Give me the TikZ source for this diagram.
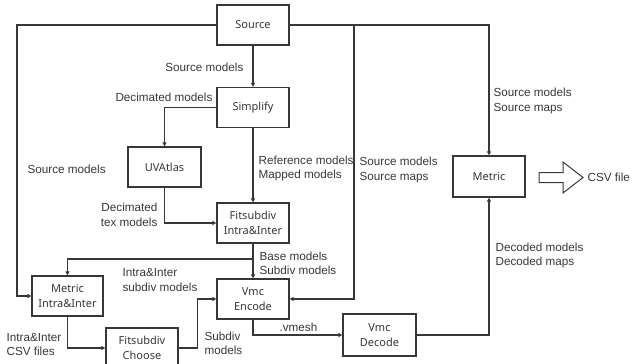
\documentclass[tikz,border=0pt]{standalone}
\usepackage{fontspec}
\setmainfont{Liberation Sans}
\newfontfamily\boxfont{Noto Sans}
\usetikzlibrary{arrows.meta}
\definecolor{ink}{RGB}{55,55,55}
\begin{document}
\begin{tikzpicture}[x=1pt,y=-1pt,
  line width=1.2pt, color=ink,
  proc/.style={draw=ink,fill=white,line width=1.3pt,minimum width=72pt,minimum height=40pt,
    inner sep=0pt,align=center,text=ink,font=\boxfont\fontsize{11}{15}\selectfont},
  lbl/.style={inner sep=0pt,text=ink,font=\fontsize{11.7}{14.5}\selectfont},
  flow/.style={draw=ink,-{Triangle[length=4pt,width=4pt]}}]
\useasboundingbox (0,0) rectangle (632,364);

% process boxes
\node[proc] (src) at (253,25) {Source};
\node[proc] (simp) at (253,107.5) {Simplify};
\node[proc,minimum width=73pt] (uva) at (164.5,167) {UVAtlas};
\node[proc] (fitii) at (253,223) {Fitsubdiv\\Intra\&Inter};
\node[proc,minimum height=41pt] (met) at (489,176.5) {Metric};
\node[proc,minimum width=71pt] (metii) at (67.5,296) {Metric\\Intra\&Inter};
\node[proc] (enc) at (253,299) {Vmc\\Encode};
\node[proc] (fitch) at (142,348) {Fitsubdiv\\Choose};
\node[proc,minimum width=73pt,minimum height=42pt] (dec) at (379.5,335) {Vmc\\Decode};

% junctions and bends
\coordinate (left) at (17,296);
\coordinate (tap) at (354,25);
\coordinate (split) at (253,259);

% connectors
\draw[flow] (src) -- (simp);
\draw[flow] (simp.west) -| (uva.north);
\draw[flow] (uva.south) |- (fitii.west);
\draw[flow] (simp) -- (fitii);
\draw[flow] (src.west) -| (left) -- (metii.west);
\draw[flow] (src.east) -| (met.north);
\draw[flow] (tap) |- (enc.east);
\draw[flow] (fitii) -- (enc);
\draw[flow] (split) -| (metii.north);
\draw[flow] (metii.south) |- (fitch.west);
\draw[flow] (fitch.east) -- ++(19,0) |- (enc.west);
\draw[flow] (enc.south) |- (dec.west);
\draw[flow] (dec.east) -| (met.south);

% open output arrow
\draw[draw=ink,line width=1pt] (539,172.5) -- (563,172.5) -- (563,162) -- (583,177.5)
  -- (563,193) -- (563,182.5) -- (539,182.5) -- cycle;

% labels
\node[lbl,anchor=east] at (244,67) {Source models};
\node[lbl,anchor=east] at (213,97) {Decimated models};
\node[lbl,anchor=west] at (27,169) {Source models};
\node[lbl,anchor=east,align=right] at (158,215) {Decimated\\tex models};
\node[lbl,anchor=west,align=left] at (258,168.5) {Reference models\\Mapped models};
\node[lbl,anchor=west,align=left] at (359,170) {Source models\\Source maps};
\node[lbl,anchor=west,align=left] at (493,101) {Source models\\Source maps};
\node[lbl,anchor=west] at (587,177) {CSV file};
\node[lbl,anchor=west,align=left] at (259,263.5) {Base models\\Subdiv models};
\node[lbl,anchor=west,align=left] at (122,280) {Intra\&Inter\\subdiv models};
\node[lbl,anchor=west,align=left] at (6,344.5) {Intra\&Inter\\CSV files};
\node[lbl,anchor=west,align=left] at (204,343.5) {Subdiv\\models};
\node[lbl,anchor=west] at (279,327) {.vmesh};
\node[lbl,anchor=west,align=left] at (495,255.5) {Decoded models\\Decoded maps};
\end{tikzpicture}
\end{document}
